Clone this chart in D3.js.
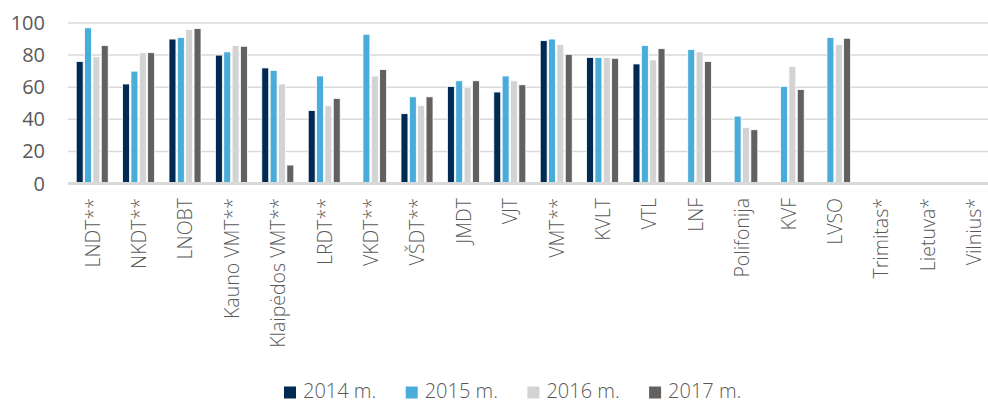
<!DOCTYPE html>
<html><head><meta charset="utf-8">
<script src="https://cdn.jsdelivr.net/npm/d3@7"></script>
<style>body{margin:0;background:#fff;} svg{display:block;}</style>
</head><body>
<script>
const categories = ["LNDT**","NKDT**","LNOBT","Kauno VMT**","Klaipėdos VMT**","LRDT**","VKDT**","VŠDT**","JMDT","VJT","VMT**","KVLT","VTL","LNF","Polifonija","KVF","LVSO","Trimitas*","Lietuva*","Vilnius*"];
const seriesNames = ["2014 m.","2015 m.","2016 m.","2017 m."];
const v2014 = [76,62,90,80,72,45.5,null,43.5,60.5,57,89,78.5,74.5,null,null,null,null,null,null,null];
const v2015 = [97,70,91,82,70.5,67,93,54,64,67,90,78.5,86,83.5,42,60.5,91,null,null,null];
const v2016 = [79,81.5,96,86,62,48.5,67,48.5,60,64,86.5,78.5,77,82,35,73,86.5,null,null,null];
const v2017 = [86,81.5,96.5,85.5,11.5,53,71,54,64,61.5,80.5,78,84,76,33.5,58.5,90.5,null,null,null];
const yTicks = [0,20,40,60,80,100];
const colors = ["#012a52","#49acd9","#d3d3d3","#646060"];

const W=988,H=403;
const svg=d3.select("body").append("svg").attr("width",W).attr("height",H);
const font="'Open Sans', sans-serif";
const y=d3.scaleLinear().domain([0,100]).range([183.5,23]);
const x0=d3.scaleBand().domain(categories).range([69.5,997.5]);
const x1=d3.scaleBand().domain(seriesNames).range([6.5,x0.bandwidth()-6.5]);
const allSeries=[v2014,v2015,v2016,v2017];

// grid
svg.append("g").selectAll("line").data(yTicks.filter(d=>d>0)).join("line")
  .attr("x1",68).attr("x2",W).attr("y1",d=>y(d)).attr("y2",d=>y(d))
  .attr("stroke","#d9d9d9").attr("stroke-width",1.5);

// y labels
svg.append("g").selectAll("text").data(yTicks).join("text")
  .attr("x",45).attr("y",d=>y(d)).attr("dy","0.35em").attr("text-anchor","end")
  .attr("font-family",font).attr("font-size",20).attr("fill","#595959").text(d=>d);

// bars
const g=svg.append("g");
allSeries.forEach((vals,si)=>{
  g.append("g").selectAll("rect").data(categories.map((c,i)=>({c,v:vals[i]})).filter(d=>d.v!=null)).join("rect")
   .attr("x",d=>x0(d.c)+x1(seriesNames[si])+0.2)
   .attr("y",d=>y(d.v))
   .attr("width",x1.bandwidth()-1.4)
   .attr("height",d=>y(0)-y(d.v))
   .attr("fill",colors[si]).attr("stroke","#fff").attr("stroke-width",0.8);
});

// baseline
svg.append("line").attr("x1",68).attr("x2",W).attr("y1",y(0)).attr("y2",y(0))
  .attr("stroke","#d9d9d9").attr("stroke-width",3);

// x labels
svg.append("g").selectAll("text").data(categories).join("text")
  .attr("transform",d=>`translate(${x0(d)+x0.bandwidth()/2},198) rotate(-90)`)
  .attr("dy","0.35em").attr("text-anchor","end")
  .attr("font-family",font).attr("font-size",19.5).attr("font-weight",300).attr("fill","#595959").text(d=>d);

// legend
const leg=svg.append("g");
seriesNames.forEach((s,i)=>{
  const lx=284+i*121.7;
  leg.append("rect").attr("x",lx).attr("y",386.5).attr("width",12).attr("height",12).attr("fill",colors[i]);
  leg.append("text").attr("x",lx+19).attr("y",398).attr("font-family",font).attr("font-size",20).attr("font-weight",300)
    .attr("fill","#595959").text(s);
});
</script>
</body></html>
